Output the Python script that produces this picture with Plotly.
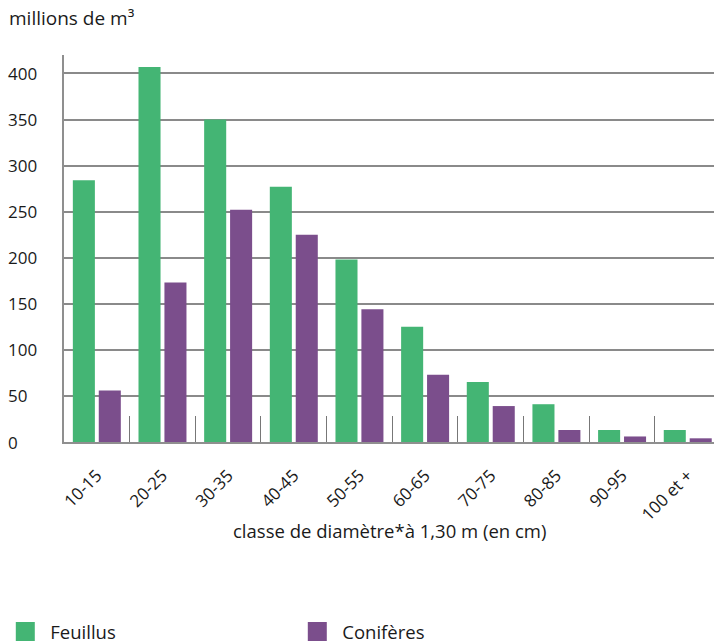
import plotly.graph_objects as go

# Volume sur pied par classe de diamètre (millions de m³)
classes = ["10-15", "20-25", "30-35", "40-45", "50-55", "60-65",
           "70-75", "80-85", "90-95", "100 et +"]
feuillus = [284, 407, 350, 277, 198, 125, 65, 41, 13, 13]
coniferes = [56, 173, 252, 225, 144, 73, 39, 13, 6, 4]
y_ticks = [0, 50, 100, 150, 200, 250, 300, 350, 400]

GREEN = "#44b574"
PURPLE = "#7b4e8c"
FONT = "Open Sans"
TXT = "#1a1a1a"

fig = go.Figure()
fig.add_trace(go.Bar(x=classes, y=feuillus, name="Feuillus",
                     marker=dict(color=GREEN, line=dict(width=0)),
                     showlegend=False))
fig.add_trace(go.Bar(x=classes, y=coniferes, name="Conifères",
                     marker=dict(color=PURPLE, line=dict(width=0)),
                     showlegend=False))

# legend entries with large square swatches
for name, col in [("Feuillus", GREEN), ("Conifères", PURPLE)]:
    fig.add_trace(go.Scatter(x=[None], y=[None], mode="markers", name=name,
                             marker=dict(symbol="square", size=16, color=col,
                                         line=dict(color=col, width=3))))

annotations = [
    dict(text="millions de m³", xref="paper", yref="paper",
         x=-0.088, y=1.096, xanchor="left", yanchor="middle",
         showarrow=False, font=dict(family=FONT, size=19, color=TXT)),
    dict(text="classe de diamètre*à 1,30 m (en cm)", xref="paper",
         yref="paper", x=0.5, y=-0.229, xanchor="center", yanchor="middle",
         showarrow=False, font=dict(family=FONT, size=18.5, color=TXT)),
]
# y tick labels, left-aligned at the page edge
for v in y_ticks:
    annotations.append(dict(text=str(v), xref="paper", yref="y", x=-0.09,
                            y=v, xanchor="left", yanchor="middle",
                            showarrow=False,
                            font=dict(family=FONT, size=17, color=TXT)))

fig.update_layout(
    width=714, height=643,
    margin=dict(l=64, r=0, t=55, b=201, autoexpand=False),
    paper_bgcolor="white", plot_bgcolor="white",
    barmode="group", bargap=0.21, bargroupgap=0.15,
    font=dict(family=FONT, color=TXT),
    annotations=annotations,
    legend=dict(orientation="h", x=-0.098, xanchor="left",
                y=-0.491, yanchor="middle", itemwidth=40,
                entrywidth=237, font=dict(family=FONT, size=18.5, color=TXT),
                bgcolor="rgba(0,0,0,0)"),
)

fig.update_xaxes(
    type="category", range=[-0.5, 9.4], automargin=False,
    showline=True, linecolor="#8f8f8f", linewidth=2,
    ticks="inside", tickson="boundaries", ticklen=26, tickwidth=1,
    tickcolor="#777777", tickangle=-45, ticklabelstandoff=15,
    tickfont=dict(family=FONT, size=17, color=TXT),
    showgrid=False, zeroline=False,
)
fig.update_yaxes(
    range=[0, 420], tickvals=y_ticks, showticklabels=False,
    automargin=False,
    showline=True, linecolor="#8f8f8f", linewidth=2,
    showgrid=True, gridcolor="#8a8a8a", gridwidth=1.5,
    zeroline=False,
)

fig.write_html("out.html")
